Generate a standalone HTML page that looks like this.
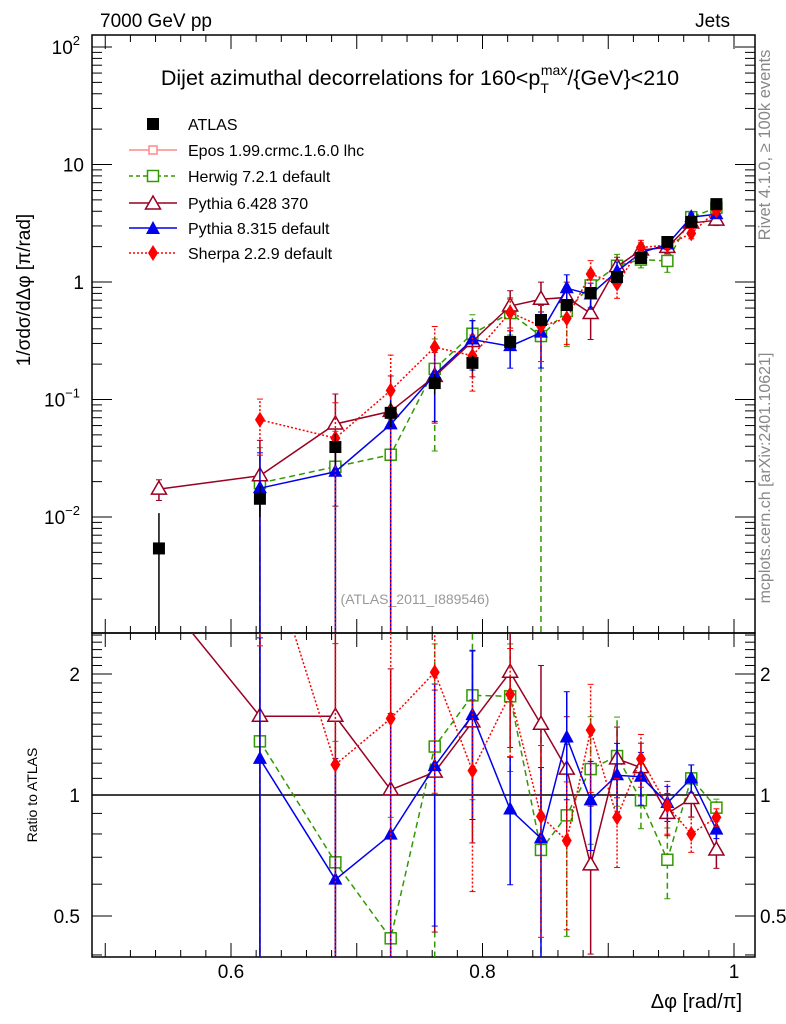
<!DOCTYPE html>
<html><head><meta charset="utf-8"><style>
html,body{margin:0;background:#fff;width:786px;height:1024px;overflow:hidden;}
svg{display:block;font-family:"Liberation Sans",sans-serif;}
</style></head><body>
<svg id="c" width="786" height="1024" viewBox="0 0 786 1024" xmlns="http://www.w3.org/2000/svg">
<text x="100" y="27" font-size="19">7000 GeV pp</text>
<text x="730" y="27" font-size="19" text-anchor="end">Jets</text>
<text x="420" y="85" font-size="21.5" text-anchor="middle">Dijet azimuthal decorrelations for 160&lt;p<tspan font-size="14" dy="8">T</tspan><tspan font-size="14" dy="-18" dx="-8">max</tspan><tspan dy="10">/{GeV}&lt;210</tspan></text>
<text transform="translate(770,145) rotate(-90)" font-size="16.5" fill="#888" text-anchor="middle">Rivet 4.1.0, ≥ 100k events</text>
<text transform="translate(770,478) rotate(-90)" font-size="16" fill="#888" text-anchor="middle">mcplots.cern.ch [arXiv:2401.10621]</text>
<text x="415" y="604" font-size="14" fill="#999" text-anchor="middle">(ATLAS_2011_I889546)</text>
<text transform="translate(30,290) rotate(-90)" font-size="19" text-anchor="middle">1/σdσ/dΔφ [π/rad]</text>
<text transform="translate(37,795) rotate(-90)" font-size="14" text-anchor="middle">Ratio to ATLAS</text>
<text x="742" y="1008" font-size="20" text-anchor="end">Δφ [rad/π]</text>
<g id="main"></g><g id="ratio"></g><g id="legend"></g>
</svg>
<script>
const xs=[0.5427,0.623,0.683,0.727,0.762,0.792,0.822,0.8465,0.867,0.886,0.907,0.926,0.947,0.966,0.986];
const atlas=[0.0054,0.0143,0.0394,0.077,0.138,0.205,0.309,0.475,0.637,0.806,1.10,1.6,2.19,3.24,4.6];
const atlasErr=[1.0,0.3,0.3,0.25,0.2,0.15,0.15,0.12,0.1,0.1,0.08,0.08,0.06,0.05,0.04];
const herwigR=[null,1.36,0.68,0.44,1.32,1.77,1.76,0.73,0.89,1.16,1.25,0.97,0.69,1.10,0.93];
const herwigE=[0,1,1,1,0.8,0.45,0.35,1,0.5,0.35,0.25,0.15,0.2,0.08,0.05];
const py6R=[3.2,1.57,1.57,1.03,1.14,1.52,2.02,1.50,1.16,0.67,1.23,1.17,0.90,0.98,0.73];
const py6E=[0.2,1,0.8,1,0.6,0.5,0.35,0.4,0.35,0.4,0.2,0.15,0.12,0.1,0.1];
const py8R=[null,1.23,0.616,0.797,1.18,1.58,0.92,0.78,1.39,0.97,1.12,1.11,0.955,1.10,0.82];
const py8E=[0,1,1,1,0.6,0.45,0.35,0.5,0.3,0.25,0.2,0.15,0.1,0.08,0.05];
const sherpaR=[null,4.7,1.19,1.55,2.02,1.15,1.78,0.885,0.77,1.45,0.88,1.23,0.94,0.80,0.88];
const sherpaE=[0,0.5,1,1,0.5,0.5,0.3,0.5,0.4,0.3,0.25,0.15,0.15,0.1,0.05];
const xTicks=[0.6,0.8,1];
const xTickLabels=["0.6","0.8","1"];

const NS="http://www.w3.org/2000/svg";
const L=92,R=755,T=35,MB=633,RB=957;
const X=v=>231+(v-0.6)*1257.5;
const Ym=v=>282-117.5*Math.log10(v);
const Yr=v=>795-121*Math.log2(v);
function el(tag,at,p){const e=document.createElementNS(NS,tag);for(const k in at)e.setAttribute(k,at[k]);p.appendChild(e);return e;}
const main=document.getElementById('main'),ratio=document.getElementById('ratio'),legend=document.getElementById('legend');
const defs=el('defs',{},document.getElementById('c'));
const c1=el('clipPath',{id:'cm'},defs);el('rect',{x:L,y:T,width:R-L,height:MB-T},c1);
const c2=el('clipPath',{id:'cr'},defs);el('rect',{x:L,y:MB,width:R-L,height:RB-MB},c2);
const gm=el('g',{'clip-path':'url(#cm)'},main);
const gr=el('g',{'clip-path':'url(#cr)'},ratio);
for(const [y0,y1] of [[T,MB],[MB,RB]]){const f=el('rect',{x:L,y:y0,width:R-L,height:y1-y0,fill:'none',stroke:'#000','stroke-width':1.5},main);

}
for(let v=0.5;v<=1.0001;v+=0.02){const px=X(v);if(px<L||px>R)continue;const major=Math.abs(v*10-Math.round(v*10))<1e-6;const len=major?14:7;
for(const [y0,y1] of [[T,MB],[MB,RB]]){el('line',{x1:px,x2:px,y1:y1,y2:y1-len,stroke:'#000'},main);el('line',{x1:px,x2:px,y1:y0,y2:y0+len,stroke:'#000'},main);}}
xTicks.forEach((v,i)=>{const t=el('text',{x:X(v),y:978,'font-size':19,'text-anchor':'middle'},main);t.textContent=xTickLabels[i];

});
for(let d=-3;d<=2;d++){for(let m=1;m<10;m++){const v=m*Math.pow(10,d);const py=Ym(v);if(py<T||py>MB)continue;const len=m==1?20:10;
el('line',{x1:L,x2:L+len,y1:py,y2:py,stroke:'#000'},main);el('line',{x1:R,x2:R-len,y1:py,y2:py,stroke:'#000'},main);}}
[[-2,'10','−2'],[-1,'10','−1'],[0,'1',''],[1,'10',''],[2,'10','2']].forEach(([d,b,e])=>{const t=el('text',{x:e?80:84,y:Ym(Math.pow(10,d))+7,'font-size':19,'text-anchor':'end'},main);t.textContent=b;
if(e){const s=el('tspan',{'font-size':13,dy:-9},t);s.textContent=e;}

});
for(let v=0.3;v<=2.6;v+=0.1){const py=Yr(v);if(py<MB||py>RB)continue;const major=[0.5,1,2].some(m=>Math.abs(m-v)<1e-6);const len=major?20:10;
el('line',{x1:L,x2:L+len,y1:py,y2:py,stroke:'#000'},main);el('line',{x1:R,x2:R-len,y1:py,y2:py,stroke:'#000'},main);}
[[2,'2'],[1,'1'],[0.5,'0.5']].forEach(([v,s])=>{for(const [x,a] of [[80,'end'],[760,'start']]){const t=el('text',{x:x,y:Yr(v)+7,'font-size':19,'text-anchor':a},main);t.textContent=s;

}});
el('line',{x1:L,x2:R,y1:Yr(1),y2:Yr(1),stroke:'#000','stroke-width':1.5},gr);

function marker(g,type,x,y,col){
 if(type=='sq')return el('rect',{x:x-6,y:y-6,width:12,height:12,fill:'#000'},g);
 if(type=='osq')return el('rect',{x:x-5.5,y:y-5.5,width:11,height:11,fill:'#fff',stroke:col,'stroke-width':1.5},g);
 if(type=='otri')return el('path',{d:`M${x},${y-8}L${x+7.5},${y+5}L${x-7.5},${y+5}Z`,fill:'#fff',stroke:col,'stroke-width':1.5},g);
 if(type=='tri')return el('path',{d:`M${x},${y-8}L${x+7},${y+5}L${x-7},${y+5}Z`,fill:col},g);
 if(type=='dia')return el('path',{d:`M${x},${y-8}L${x+5},${y}L${x},${y+8}L${x-5},${y}Z`,fill:col},g);
 if(type=='cross')return el('path',{d:`M${x-4},${y-4}h8v8h-8z`,fill:'#fff',stroke:col,'stroke-width':1.5},g);
}
const series=[
 {name:'herwig',r:herwigR,e:herwigE,col:'#339900',dash:'6,4',m:'osq'},
 {name:'pythia6',r:py6R,e:py6E,col:'#990022',dash:'',m:'otri'},
 {name:'pythia8',r:py8R,e:py8E,col:'#0000ee',dash:'',m:'tri'},
 {name:'sherpa',r:sherpaR,e:sherpaE,col:'#ff0000',dash:'2,2',m:'dia'}];
series.forEach(s=>{
 const pm=[],pr=[];
 s.r.forEach((r,i)=>{if(r==null)return;const v=atlas[i]*r;pm.push([X(xs[i]),Ym(v)]);pr.push([X(xs[i]),Yr(r)]);});
 for(const [g,pts] of [[gm,pm],[gr,pr]]){const l=el('polyline',{points:pts.map(p=>p.join(',')).join(' '),fill:'none',stroke:s.col,'stroke-width':1.5,'stroke-dasharray':s.dash},g);
 
 }
 s.r.forEach((r,i)=>{if(r==null)return;const v=atlas[i]*r,e=s.e[i];
  for(const [g,f,val] of [[gm,Ym,v],[gr,Yr,r]]){const px=X(xs[i]);const lo=Math.max(val*(1-e),1e-4),hi=val*(1+e);
   el('line',{x1:px,x2:px,y1:f(lo),y2:f(hi),stroke:s.col,'stroke-width':1.5,'stroke-dasharray':s.dash},g);
   el('line',{x1:px-3,x2:px+3,y1:f(hi),y2:f(hi),stroke:s.col},g);
   if(e<1)el('line',{x1:px-3,x2:px+3,y1:f(lo),y2:f(lo),stroke:s.col},g);
   const mk=marker(g,s.m,px,f(val),s.col);
   
   }
 });
});
atlas.forEach((v,i)=>{const px=X(xs[i]),e=atlasErr[i];
 el('line',{x1:px,x2:px,y1:Ym(Math.max(v*(1-e),1e-4)),y2:Ym(v*(1+e)),stroke:'#000','stroke-width':1.5},gm);
 const mk=marker(gm,'sq',px,Ym(v),'#000');
 
 });
const leg=[['ATLAS','sq','#000',null],['Epos 1.99.crmc.1.6.0 lhc','cross','#ff8888',''],['Herwig 7.2.1 default','osq','#339900','4,3'],['Pythia 6.428 370','otri','#990022',''],['Pythia 8.315 default','tri','#0000ee',''],['Sherpa 2.2.9 default','dia','#ff0000','2,2']];
const ly=[124,150,176,203,228,253];
leg.forEach((d,i)=>{const g=el('g',{},legend);
 
 
 if(d[3]!==null)el('line',{x1:129,x2:177,y1:ly[i],y2:ly[i],stroke:d[2],'stroke-width':1.5,'stroke-dasharray':d[3]},g);
 marker(g,d[1],153,ly[i]+(d[1].includes('tri')?1:0),d[2]);
 const t=el('text',{x:188,y:ly[i]+6,'font-size':16},g);t.textContent=d[0];});
</script>
</body></html>
